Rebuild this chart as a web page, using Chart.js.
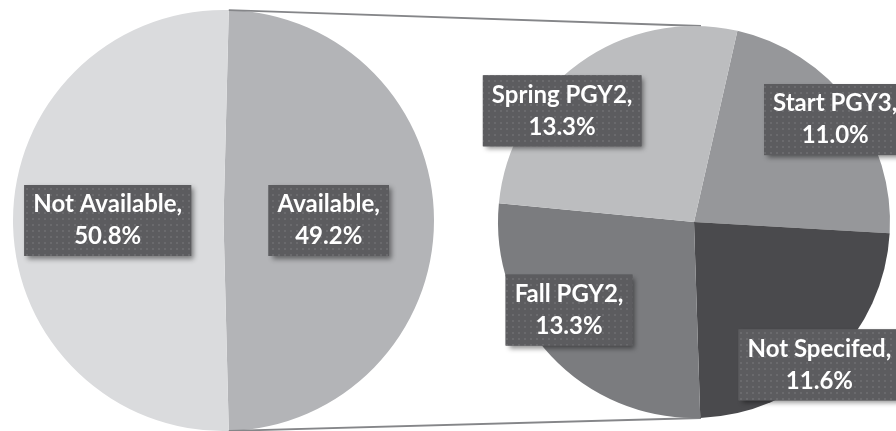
<!DOCTYPE html>
<html>
<head>
<meta charset="utf-8">
<script src="https://cdn.jsdelivr.net/npm/chart.js@4"></script>
<style>
  html, body { margin: 0; padding: 0; background: #ffffff; }
  #wrap { position: relative; width: 896px; height: 431px; overflow: hidden; }
  #wrap canvas { position: absolute; left: 0; top: 0; }
</style>
</head>
<body>
<div id="wrap">
  <canvas id="leftPie" width="896" height="431"></canvas>
  <canvas id="rightPie" width="896" height="431"></canvas>
</div>
<script>
// ---- data ----
const leftCategories = ['Available', 'Not Available'];
const leftValues = [49.2, 50.8];
const rightCategories = ['Start PGY3', 'Not Specifed', 'Fall PGY2', 'Spring PGY2'];
const rightValues = [11.0, 11.6, 13.3, 13.3];

// ---- styles ----
const leftColors = ['#b3b4b7', '#dadbdd'];
const rightColors = ['#96979a', '#4a4a4d', '#7b7c7f', '#bcbdbf'];
// label anchor: fraction of radius along slice mid-angle, plus angle shift (deg)
const leftLabelPos = [{k: 0.50, d: 0}, {k: 0.55, d: 0}];
const rightLabelPos = [{k: 0.89, d: 1}, {k: 0.97, d: 3}, {k: 0.78, d: 8}, {k: 0.88, d: -14}];

const FONT = 'bold 24px Lato, "Open Sans", sans-serif';
const LINE = 32;

function makePattern(ctx) {
  const p = document.createElement('canvas');
  p.width = 6; p.height = 6;
  const c = p.getContext('2d');
  c.fillStyle = '#5c5c5f';
  c.fillRect(0, 0, 6, 6);
  c.fillStyle = '#6a6a6d';
  c.fillRect(2, 2, 2, 2);
  return ctx.createPattern(p, 'repeat');
}

function labelPlugin(categories, values, pos) {
  return {
    id: 'boxLabels',
    afterDatasetsDraw(chart) {
      const ctx = chart.ctx;
      const meta = chart.getDatasetMeta(0);
      const pattern = makePattern(ctx);
      ctx.save();
      ctx.font = FONT;
      meta.data.forEach((arc, i) => {
        const p = arc.getProps(['x', 'y', 'startAngle', 'endAngle', 'outerRadius'], true);
        const mid = (p.startAngle + p.endAngle) / 2 + pos[i].d * Math.PI / 180;
        const r = p.outerRadius * pos[i].k;
        const cx = p.x + Math.cos(mid) * r;
        const cy = p.y + Math.sin(mid) * r;
        const l1 = categories[i] + ',';
        const l2 = values[i].toFixed(1) + '%';
        const w = Math.max(ctx.measureText(l1).width, ctx.measureText(l2).width) + 18;
        const h = 71;
        const bx = cx - w / 2, by = cy - h / 2;
        ctx.save();
        ctx.shadowColor = 'rgba(0,0,0,0.45)';
        ctx.shadowBlur = 5;
        ctx.shadowOffsetX = 3;
        ctx.shadowOffsetY = 3;
        ctx.fillStyle = '#5c5c5f';
        ctx.fillRect(bx, by, w, h);
        ctx.restore();
        ctx.fillStyle = pattern;
        ctx.fillRect(bx, by, w, h);
        ctx.fillStyle = '#ffffff';
        ctx.textAlign = 'center';
        ctx.textBaseline = 'middle';
        ctx.fillText(l1, cx, cy - LINE / 2);
        ctx.fillText(l2, cx, cy + LINE / 2);
      });
      ctx.restore();
    }
  };
}

const sumLeft = leftValues.reduce((a, b) => a + b, 0);
const leftRotation = 90 - 180 * leftValues[0] / sumLeft;

const leftChart = new Chart(document.getElementById('leftPie'), {
  type: 'pie',
  data: {
    labels: leftCategories,
    datasets: [{ data: leftValues, backgroundColor: leftColors, borderWidth: 0 }]
  },
  options: {
    responsive: false,
    animation: false,
    events: [],
    rotation: leftRotation,
    layout: { padding: { left: 13, right: 462, top: 10, bottom: 0 } },
    plugins: { legend: { display: false }, tooltip: { enabled: false } }
  },
  plugins: [labelPlugin(leftCategories, leftValues, leftLabelPos)]
});

const connectorPlugin = {
  id: 'connectors',
  beforeDatasetsDraw(chart) {
    const lm = leftChart.getDatasetMeta(0).data[0];
    const rm = chart.getDatasetMeta(0).data[0];
    if (!lm || !rm) return;
    const L = lm.getProps(['x', 'y', 'startAngle', 'endAngle', 'outerRadius'], true);
    const R = rm.getProps(['x', 'y', 'outerRadius'], true);
    const ctx = chart.ctx;
    const sx = L.x + Math.cos(L.startAngle) * L.outerRadius;
    const sy = L.y + Math.sin(L.startAngle) * L.outerRadius;
    const ex = L.x + Math.cos(L.endAngle) * L.outerRadius;
    const ey = L.y + Math.sin(L.endAngle) * L.outerRadius;
    ctx.save();
    ctx.strokeStyle = '#858689';
    ctx.lineWidth = 1.8;
    ctx.beginPath();
    ctx.moveTo(sx, sy);
    ctx.lineTo(R.x + 7, R.y - R.outerRadius);
    ctx.moveTo(ex, ey);
    ctx.lineTo(R.x + 7, R.y + R.outerRadius);
    ctx.stroke();
    ctx.restore();
  }
};

new Chart(document.getElementById('rightPie'), {
  type: 'pie',
  data: {
    labels: rightCategories,
    datasets: [{ data: rightValues, backgroundColor: rightColors, borderWidth: 0 }]
  },
  options: {
    responsive: false,
    animation: false,
    events: [],
    rotation: 12.8,
    layout: { padding: { left: 498, right: 6, top: 26, bottom: 13 } },
    plugins: { legend: { display: false }, tooltip: { enabled: false } }
  },
  plugins: [connectorPlugin, labelPlugin(rightCategories, rightValues, rightLabelPos)]
});
</script>
</body>
</html>
